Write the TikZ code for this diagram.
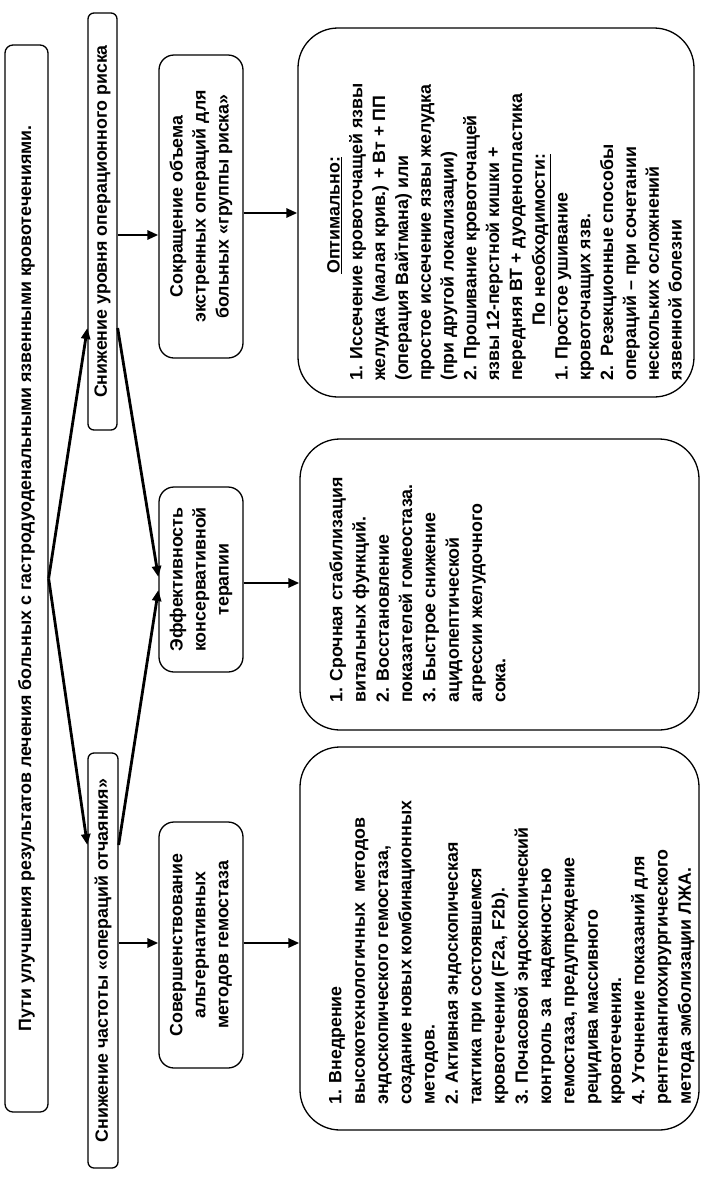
\documentclass[tikz,border=0pt]{standalone}
\usepackage{fontspec}
\setmainfont{Liberation Sans}
\usetikzlibrary{arrows.meta}
\begin{document}
\begin{tikzpicture}[x=1pt,y=-1pt,
  box/.style={draw, line width=1.3pt, rotate=90, inner sep=0pt, align=center,
    font=\bfseries\fontsize{17.8}{23}\selectfont},
  txt/.style={rotate=90, inner sep=0pt, anchor=north west, align=left,
    font=\bfseries\fontsize{17.8}{23.3}\selectfont},
  conn/.style={line width=2.8pt, -{Triangle[length=11pt,width=9pt]}}]
\useasboundingbox (0,0) rectangle (709,1181);
% header boxes
\node[box, rounded corners=8pt, minimum width=1067pt, minimum height=43pt] (title) at (26.5,578.5)
  {Пути улучшения результатов лечения больных с гастродуоденальными язвенными кровотечениями.};
\node[box, rounded corners=6pt, minimum width=417pt, minimum height=29pt] (su) at (102.5,221.5)
  {Снижение уровня операционного риска};
\node[box, rounded corners=6pt, minimum width=415pt, minimum height=30pt] (sc) at (103,960.5)
  {Снижение частоты «операций отчаяния»};
% middle boxes
\node[box, rounded corners=15pt, minimum width=303pt, minimum height=84pt] (m3) at (201,206.5)
  {Сокращение объема\\экстренных операций для\\больных «группы риска»};
\node[box, rounded corners=15pt, minimum width=185pt, minimum height=84pt] (m2) at (201,579.5)
  {Эффективность\\консервативной\\терапии};
\node[box, rounded corners=15pt, minimum width=246pt, minimum height=84pt] (m1) at (201,945)
  {Совершенствование\\альтернативных\\методов гемостаза};
% big boxes
\node[box, rounded corners=40pt, minimum width=369pt, minimum height=396pt] (b3) at (496,212.5) {};
\node[box, rounded corners=40pt, minimum width=291pt, minimum height=399pt] (b2) at (499.5,584.5) {};
\node[box, rounded corners=40pt, minimum width=383pt, minimum height=399pt] (b1) at (499.5,938.5) {};
% texts of big boxes
\node[txt, font=\bfseries\fontsize{17.8}{22.8}\selectfont] (t3) at (327,381) {%
\hspace*{107pt}\underline{Оптимально:}\\
1. Иссечение кровоточащей язвы\\
желудка (малая крив.) + Вт + ПП\\
(операция Вайтмана) или\\
простое иссечение язвы желудка\\
(при другой локализации)\\
2. Прошивание кровоточащей\\
язвы 12-перстной кишки +\\
передняя ВТ + дуоденопластика\\
\hspace*{55pt}\underline{По необходимости:}\\
1. Простое ушивание\\
кровоточащих язв.\\
2.\ \ Резекционные способы\\
операций – при сочетании\\
нескольких осложнений\\
язвенной болезни};
\node[txt] (t2) at (329,703) {%
1. Срочная стабилизация\\
витальных функций.\\
2. Восстановление\\
показателей гомеостаза.\\
3. Быстрое снижение\\
ацидопептической\\
агрессии желудочного\\
сока.};
\node[txt] (t1) at (329,1105) {%
1. Внедрение\\
высокотехнологичных\ \ методов\\
эндоскопического гемостаза,\\
создание новых комбинационных\\
методов.\\
2. Активная эндоскопическая\\
тактика при состоявшемся\\
кровотечении (F2a, F2b).\\
3. Почасовой эндоскопический\\
контроль за\ \ надежностью\\
гемостаза, предупреждение\\
рецидива массивного\\
кровотечения.\\
4. Уточнение показаний для\\
рентгенангиохирургического\\
метода эмболизации ЛЖА.};
% connectors
\draw[conn] (title.south) -- (su.north |- 0,328);
\draw[conn] (title.south) -- (sc.north |- 0,845);
\draw[conn] (su.south |- 0,328) -- (m2.north |- 0,577);
\draw[conn] (sc.south |- 0,845) -- (m2.north |- 0,590);
\draw[conn] (su.south |- 0,235) -- (m3.north |- 0,235);
\draw[conn] (sc.south |- 0,943) -- (m1.north |- 0,943);
\draw[conn] (m3.south |- 0,213) -- (b3.north |- 0,213);
\draw[conn] (m2.south |- 0,583) -- (b2.north |- 0,583);
\draw[conn] (m1.south |- 0,943) -- (b1.north |- 0,943);
\end{tikzpicture}
\end{document}
